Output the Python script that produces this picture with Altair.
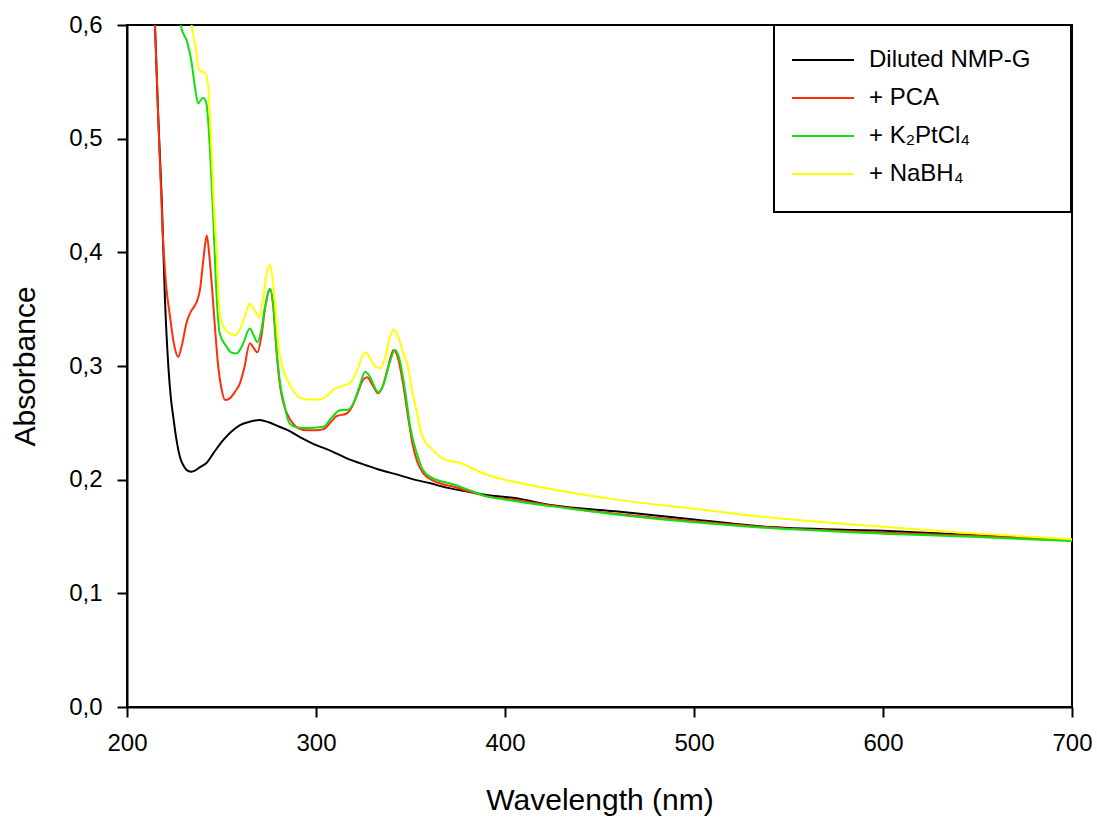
import altair as alt
import pandas as pd

series_names = ["Diluted NMP-G", "+ PCA", "+ K₂PtCl₄", "+ NaBH₄"]
series_colors = ["#000000", "#ff2d0a", "#10e010", "#ffff00"]

black_wl = [212, 214.8, 216.5, 218.4, 220.1, 221.9, 223.2, 224.5, 226, 228, 230, 232, 234.2, 236,
            238.6, 242, 246, 251, 255, 259.8, 265, 270, 275, 280, 285, 291.5, 298, 309, 316, 326.8,
            334, 344, 351, 360, 369, 380, 390, 404, 425, 461, 500, 535, 600, 650, 700]
black_ab = [0.70, 0.60, 0.52, 0.446, 0.358, 0.299, 0.272, 0.255, 0.237, 0.220, 0.212, 0.208, 0.207, 0.208,
            0.211, 0.2146, 0.224, 0.235, 0.242, 0.248, 0.251, 0.2525, 0.2505, 0.247, 0.2435, 0.2375, 0.232,
            0.2245, 0.219, 0.2125, 0.2085, 0.204, 0.2005, 0.197, 0.193, 0.1895, 0.1865, 0.184, 0.1775,
            0.1718, 0.165, 0.159, 0.155, 0.151, 0.147]

red_wl = [212, 214.8, 216.5, 218.8, 220.5, 222.8, 225, 227.1, 229, 231.5, 233.5, 235, 237, 238.6, 240.5,
          242.2, 243.5, 244.8, 246.5, 248.3, 250, 251.9, 254, 257, 259.8, 262, 265, 267, 269, 271, 273,
          275.7, 277.5, 279, 281, 283, 285, 288, 291.5, 295, 300, 304, 308, 311, 316, 319, 322, 325, 327,
          330, 332.8, 335, 338, 341, 343, 346, 349, 351, 353.5, 356.6, 361, 367, 372.5, 380, 390, 404,
          425, 461, 500, 535, 600, 650, 700]
red_ab = [0.70, 0.60, 0.52, 0.42, 0.375, 0.343, 0.318, 0.308, 0.318, 0.338, 0.347, 0.351, 0.357, 0.367, 0.395,
          0.415, 0.398, 0.373, 0.335, 0.299, 0.280, 0.270, 0.271, 0.277, 0.285, 0.298, 0.320, 0.316, 0.312,
          0.325, 0.350, 0.367, 0.350, 0.315, 0.282, 0.266, 0.257, 0.249, 0.2445, 0.2435, 0.2435, 0.2445,
          0.251, 0.256, 0.258, 0.264, 0.276, 0.288, 0.290, 0.283, 0.276, 0.281, 0.298, 0.314, 0.309, 0.285,
          0.252, 0.232, 0.216, 0.206, 0.200, 0.196, 0.194, 0.190, 0.1855, 0.1825, 0.177, 0.1695, 0.1635,
          0.1585, 0.1535, 0.1505, 0.1465]

green_wl = [226, 228.4, 232, 234, 236, 237.6, 240.2, 242, 244, 245.7, 247.4, 249, 252.7, 255, 258, 261, 265,
            267, 269, 271, 273, 275.7, 277.5, 279, 281, 283, 286, 290, 297, 304, 308, 312.7, 317, 320, 323,
            326, 328, 333, 336, 339, 341.8, 344, 347, 350, 353, 356.6, 361, 364, 372.5, 380, 390, 404, 425,
            461, 500, 535, 600, 650, 700]
green_ab = [0.64, 0.60, 0.584, 0.569, 0.545, 0.531, 0.536, 0.531, 0.487, 0.428, 0.362, 0.329, 0.317, 0.312,
            0.311, 0.318, 0.333, 0.327, 0.321, 0.331, 0.352, 0.368, 0.352, 0.317, 0.285, 0.268, 0.2495, 0.246,
            0.2455, 0.2465, 0.254, 0.261, 0.2615, 0.268, 0.282, 0.295, 0.292, 0.277, 0.285, 0.303, 0.314,
            0.307, 0.280, 0.245, 0.225, 0.2085, 0.202, 0.1997, 0.196, 0.1915, 0.1855, 0.1815, 0.1765, 0.169,
            0.1625, 0.158, 0.1525, 0.1495, 0.146]

yellow_wl = [232, 234.2, 236.8, 237.7, 239.5, 241.3, 243, 244.8, 246, 247.5, 249, 251, 254, 257, 260, 263,
             265, 267.5, 270, 272, 274, 275.7, 277.5, 280, 282.5, 284.7, 288, 291.5, 296, 302, 306, 309, 314,
             318, 322, 326, 329, 331, 334, 337, 339, 341.3, 343.5, 346, 348.7, 351, 353.4, 355, 358, 362,
             366, 371, 376, 380, 390, 408, 430, 461, 500, 535, 600, 640, 700]
yellow_ab = [0.64, 0.60, 0.575, 0.562, 0.559, 0.558, 0.545, 0.487, 0.44, 0.399, 0.347, 0.3346, 0.329, 0.327,
             0.333, 0.347, 0.355, 0.349, 0.343, 0.36, 0.382, 0.389, 0.37, 0.32, 0.298, 0.288, 0.278, 0.272,
             0.2705, 0.2705, 0.274, 0.279, 0.2825, 0.285, 0.297, 0.312, 0.306, 0.300, 0.298, 0.31, 0.325,
             0.332, 0.326, 0.312, 0.299, 0.277, 0.259, 0.245, 0.233, 0.226, 0.2195, 0.2165, 0.215, 0.212,
             0.2045, 0.197, 0.190, 0.182, 0.1745, 0.1675, 0.1585, 0.1535, 0.1475]

x_ticks = [200, 300, 400, 500, 600, 700]
y_ticks = [0.0, 0.1, 0.2, 0.3, 0.4, 0.5, 0.6]

rows = []
for order, (name, wls, abs_) in enumerate(zip(series_names,
                                             [black_wl, red_wl, green_wl, yellow_wl],
                                             [black_ab, red_ab, green_ab, yellow_ab])):
    for w, a in zip(wls, abs_):
        rows.append({"series": name, "order": order, "wl": w, "abs": a})
df = pd.DataFrame(rows)

FONT = "Liberation Sans"

lines = alt.Chart(df).mark_line(strokeWidth=2, clip=True, interpolate="monotone").encode(
    x=alt.X("wl:Q", title="Wavelength (nm)",
            scale=alt.Scale(domain=[200, 700], nice=False, zero=False),
            axis=alt.Axis(values=x_ticks, format="d", labelFlush=False, labelPadding=14,
                          titlePadding=30)),
    y=alt.Y("abs:Q", title="Absorbance",
            scale=alt.Scale(domain=[0, 0.6], nice=False),
            axis=alt.Axis(values=y_ticks, labelFlush=False, labelPadding=15,
                          labelExpr="replace(format(datum.value, '.1f'), '.', ',')",
                          titlePadding=28)),
    color=alt.Color("series:N",
                    scale=alt.Scale(domain=series_names, range=series_colors),
                    legend=alt.Legend(title=None, orient="none", legendX=664, legendY=16,
                                      symbolType="stroke", symbolSize=3844, symbolStrokeWidth=2,
                                      labelFontSize=24, labelFont=FONT, labelColor="black",
                                      labelOffset=14, rowPadding=0, clipHeight=38,
                                      padding=0, labelLimit=400)),
    detail="series:N",
    order=alt.Order("order:Q"),
)

box = alt.Chart(alt.Data(values=[{}])).mark_rect(
    fill="white", stroke="black", strokeWidth=2
).encode(x=alt.value(647), x2=alt.value(944), y=alt.value(0), y2=alt.value(187))

chart = alt.layer(lines, box).properties(
    width=945, height=682,
    autosize=alt.AutoSizeParams(type="none"),
    padding={"left": 127, "top": 25, "right": 25, "bottom": 112},
).configure_view(
    stroke="black", strokeWidth=2
).configure_axis(
    grid=False, domainColor="black", domainWidth=2, tickColor="black", tickWidth=2, tickSize=10,
    labelFont=FONT, labelFontSize=24, labelColor="black",
    titleFont=FONT, titleFontSize=30, titleFontWeight="normal", titleColor="black",
)

chart.save("out.html", embed_options={"renderer": "svg", "actions": False})
